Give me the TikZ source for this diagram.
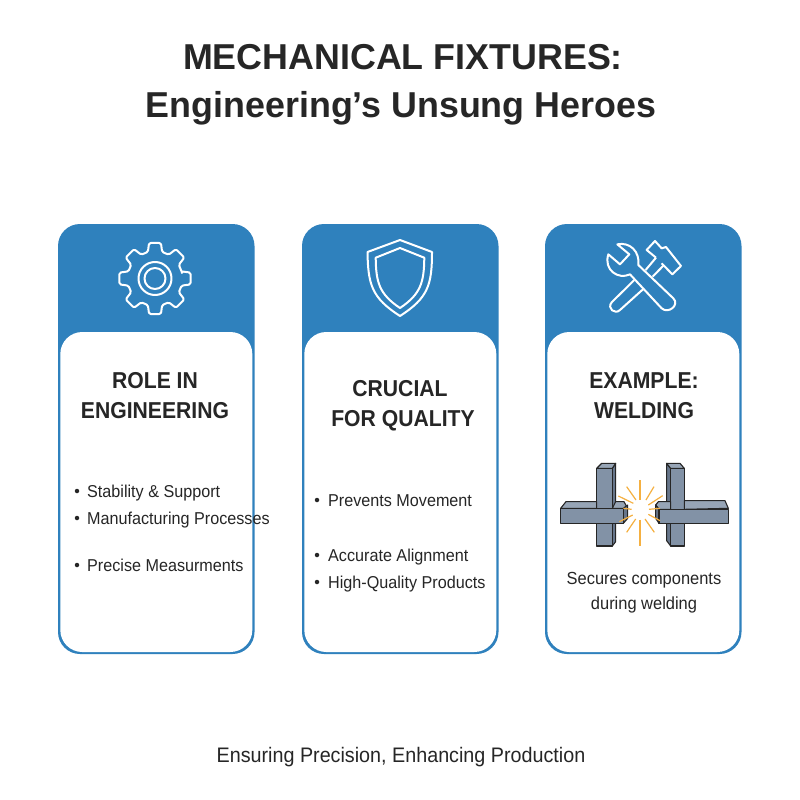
\documentclass[tikz,border=0pt]{standalone}
\usepackage{fontspec}
\setmainfont{Liberation Sans}
\newfontfamily\bodyfont{Liberation Sans}[FakeStretch=0.94]
\newfontfamily\headfont{Liberation Sans}[FakeStretch=0.92]
\newfontfamily\titlefont{Liberation Sans}[FakeStretch=0.995]
\definecolor{hdr}{HTML}{2F81BD}
\definecolor{ink}{HTML}{262626}
\definecolor{steel}{HTML}{8292A6}
\definecolor{steeld}{HTML}{66758A}
\definecolor{steell}{HTML}{97A5B6}
\definecolor{spark}{HTML}{F5B041}
\tikzset{
  panelouter/.style={fill=hdr,rounded corners=22pt},
  panelinner/.style={fill=white,rounded corners=22pt},
  icon/.style={draw=white,line width=2pt,line join=round},
  titletext/.style={font=\titlefont\fontsize{36}{36}\selectfont\bfseries,text=ink,inner sep=0,anchor=base},
  headtext/.style={font=\headfont\fontsize{23}{23}\selectfont\bfseries,text=ink,inner sep=0,anchor=base},
  bodytext/.style={font=\bodyfont\fontsize{17.2}{17.2}\selectfont,text=ink,inner sep=0,anchor=base west},
  centertext/.style={font=\bodyfont\fontsize{17.5}{17.5}\selectfont,text=ink,inner sep=0,anchor=base},
  bulletdot/.style={circle,fill=ink,inner sep=0,minimum size=4.5pt},
  steelline/.style={draw=black!85,line width=1.1pt,line join=round},
  sparkline/.style={draw=spark,line width=1.2pt},
}
\begin{document}
\begin{tikzpicture}[x=1pt,y=-1pt]
\useasboundingbox (0,0) rectangle (800,800);
\fill[white] (0,0) rectangle (800,800);
\node[titletext] (t1) at (403,70) {MECHANICAL FIXTURES:};
\node[titletext] (t2) at (401,117) {Engineering’s Unsung Heroes};
% panels
\foreach \x/\n in {58/a,302/b,545/c}{
  \fill[panelouter] (\x,224) rectangle ++(196.5,430);
  \fill[panelinner] (\x+2.3,332) rectangle ++(192,320);
}
% gear
\begin{scope}[shift={(155,278.5)}]
\draw[icon,rounded corners=1.5pt] (-14:27.5)
  \foreach \a in {0,45,...,315}{ -- (\a-15:27.5) -- (\a-9.5:36) -- (\a+9.5:36) -- (\a+15:27.5)} -- cycle;
\draw[icon] (0,0) circle (16.5);
\draw[icon] (0,0) circle (10.5);
\end{scope}
% shield
\draw[icon] (400,240) -- (432,252) .. controls (432,285) and (428,298) .. (400,316) .. controls (372,298) and (368,285) .. (367.5,252) -- cycle;
\draw[icon] (400,248) -- (424.3,257.7) .. controls (424,282) and (421,294) .. (400,308) .. controls (379,294) and (376,282) .. (375.7,257.7) -- cycle;
% tools
\begin{scope}[shift={(540,215)},x=0.3333pt,y=-0.3333pt]
\draw[icon] (348,128) -- (320,105) -- (345,78) -- (365,100) -- (378,96) -- (423,153) -- (397,178) -- (365,145);
\draw[icon] (372,150) -- (338,185);
\draw[icon] (348,128) -- (317,165);
\draw[icon] (283,195) -- (215,262) .. controls (200,280) and (225,300) .. (240,285) -- (310,222);
\draw[icon] (232,88) -- (268,118) -- (240,148) -- (205,118)
  .. controls (190,165) and (235,195) .. (270,178)
  -- (365,280) .. controls (385,298) and (420,270) .. (400,250)
  -- (295,150) .. controls (300,110) and (270,80) .. (232,88) -- cycle;
\end{scope}
% headings
\node[headtext] (h1a) at (155,388) {ROLE IN};
\node[headtext] (h1b) at (155,418) {ENGINEERING};
\node[headtext] (h2a) at (400,396) {CRUCIAL};
\node[headtext] (h2b) at (403,426) {FOR QUALITY};
\node[headtext] (h3a) at (644,388) {EXAMPLE:};
\node[headtext] (h3b) at (644,418) {WELDING};
% bullets
\foreach \y/\t in {491/Stability \& Support,518/Manufacturing Processes,565/Precise Measurments}{
  \node[bulletdot] at (77,\y) {};
  \node[bodytext] at (87,\y+6) {\t};
}
\foreach \y/\t in {500/Prevents Movement,555/Accurate Alignment,582/High-Quality Products}{
  \node[bulletdot] at (317,\y) {};
  \node[bodytext] at (328,\y+6) {\t};
}
% welding
\begin{scope}[shift={(550,450)},x=0.3333pt,y=-0.3333pt]
\filldraw[steelline,fill=steeld] (187,55) -- (197,40) -- (197,275) -- (187,288) -- cycle;
\filldraw[steelline,fill=steell] (140,55) -- (155,40) -- (197,40) -- (187,55) -- cycle;
\filldraw[steelline,fill=steel] (140,55) rectangle (187,288);
\filldraw[steelline,fill=steell] (32,175) -- (48,155) -- (140,155) -- (140,175) -- cycle;
\filldraw[steelline,fill=steell] (187,175) -- (197,155) -- (222,155) -- (233,175) -- cycle;
\filldraw[steelline,fill=steeld] (220,175) -- (233,165) -- (233,205) -- (220,220) -- cycle;
\filldraw[steelline,fill=steel] (32,175) rectangle (220,220);
\filldraw[steelline,fill=steeld] (350,40) -- (362,55) -- (362,288) -- (350,272) -- cycle;
\filldraw[steelline,fill=steell] (350,40) -- (390,40) -- (403,55) -- (362,55) -- cycle;
\filldraw[steelline,fill=steel] (362,55) rectangle (403,288);
\filldraw[steelline,fill=steell] (327,178) -- (317,165) -- (325,155) -- (362,155) -- (362,178) -- cycle;
\filldraw[steelline,fill=steell] (403,178) -- (403,152) -- (525,152) -- (535,175) -- cycle;
\filldraw[steelline,fill=steeld] (317,165) -- (327,178) -- (327,220) -- (317,205) -- cycle;
\filldraw[steelline,fill=steel] (327,178) rectangle (535,220);
\fill[white,opacity=0.9] (270,172) circle (24);
\foreach \a/\b/\c/\d in {270/90/270/150,230/110/258/150,312/110/288/150,205/138/250/160,338/137/295/165,220/175/245/178,297/178/330/175,208/215/248/195,295/193/330/212,230/247/257/207,313/247/285/207,270/210/270/287}{
  \draw[sparkline] (\a,\b) -- (\c,\d);
}
\end{scope}
\node[centertext] (s1) at (644,584) {Secures components};
\node[centertext] (s2) at (644,609) {during welding};
\node[font=\bodyfont\fontsize{21}{21}\selectfont,text=ink,inner sep=0,anchor=base] (foot) at (401,762) {Ensuring Precision, Enhancing Production};
\end{tikzpicture}
\end{document}
